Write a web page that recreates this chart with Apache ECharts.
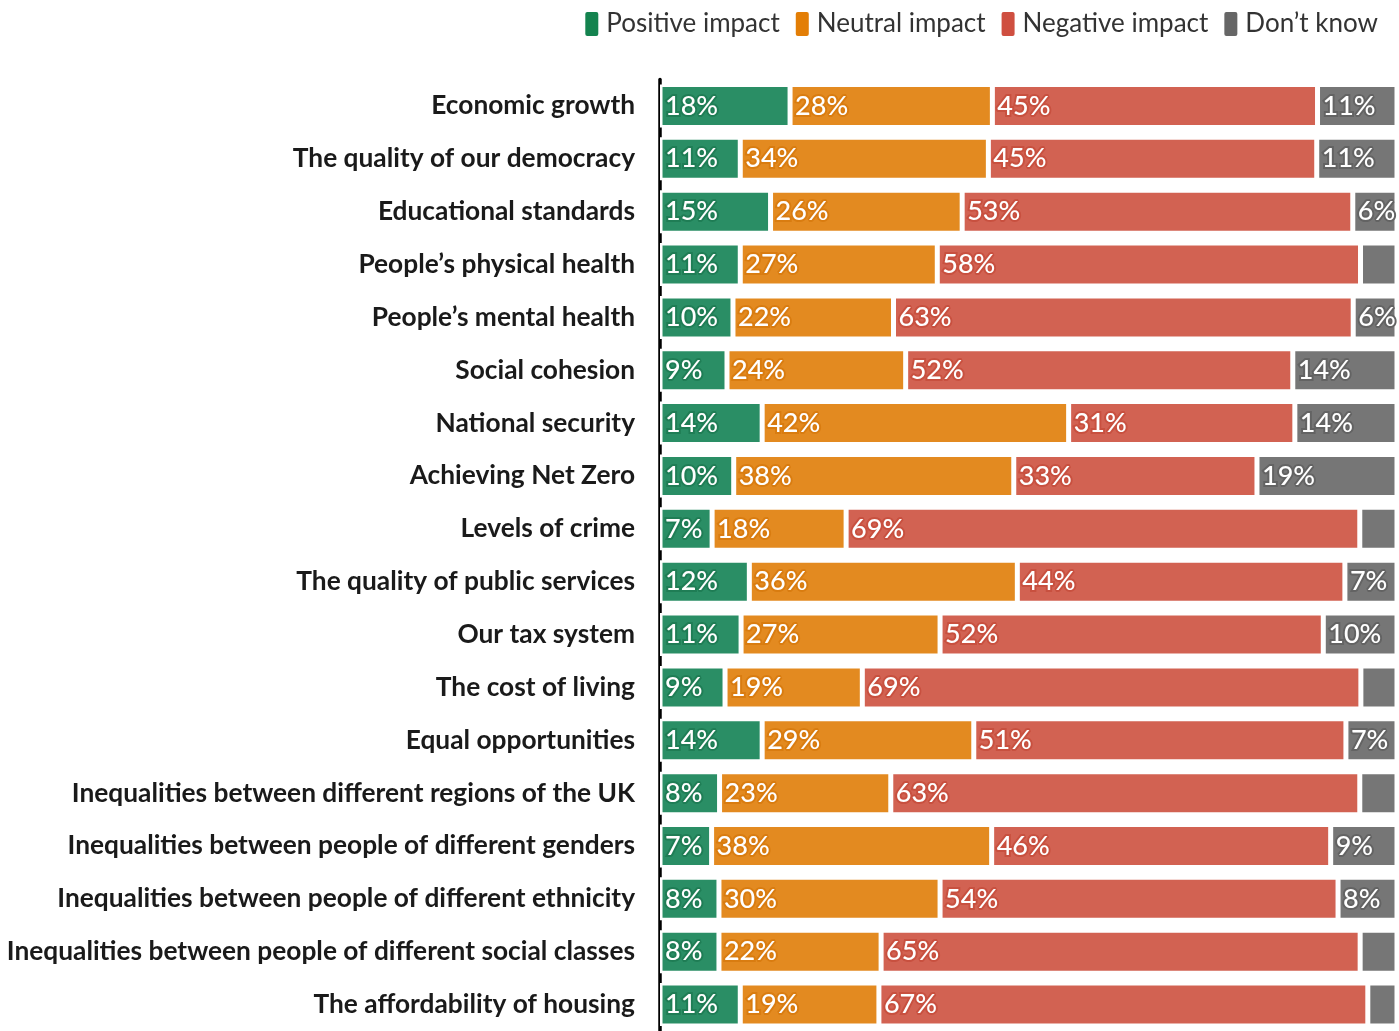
<!DOCTYPE html>
<html>
<head>
<meta charset="utf-8">
<script src="https://cdn.jsdelivr.net/npm/echarts@6/dist/echarts.min.js"></script>
<style>
  html, body { margin: 0; padding: 0; background: #ffffff; }
  #chart { width: 1399px; height: 1031px; }
</style>
</head>
<body>
<div id="chart"></div>
<script>
// Survey areas, top to bottom
const categories = [
  'Economic growth',
  'The quality of our democracy',
  'Educational standards',
  'People\u2019s physical health',
  'People\u2019s mental health',
  'Social cohesion',
  'National security',
  'Achieving Net Zero',
  'Levels of crime',
  'The quality of public services',
  'Our tax system',
  'The cost of living',
  'Equal opportunities',
  'Inequalities between different regions of the UK',
  'Inequalities between people of different genders',
  'Inequalities between people of different ethnicity',
  'Inequalities between people of different social classes',
  'The affordability of housing'
];

// Share of respondents (%) per answer
const positive = [18, 11, 15, 11, 10, 9, 14, 10, 7, 12, 11, 9, 14, 8, 7, 8, 8, 11];
const neutral  = [28, 34, 26, 27, 22, 24, 42, 38, 18, 36, 27, 19, 29, 23, 38, 30, 22, 19];
const negative = [45, 45, 53, 58, 63, 52, 31, 33, 69, 44, 52, 69, 51, 63, 46, 54, 65, 67];
const dontKnow = [11, 11, 6, 5, 6, 14, 14, 19, 5, 7, 10, 5, 7, 5, 9, 8, 5, 4];

const seriesNames = ['Positive impact', 'Neutral impact', 'Negative impact', 'Don\u2019t know'];
const seriesValues = [positive, neutral, negative, dontKnow];
const barColors   = ['#2a8e65', '#e38a20', '#d26252', '#767676'];
const haloColors  = ['#1f7d55', '#d97c10', '#c8503f', '#636363'];
const legendColors = ['#14834f', '#e37e06', '#cf4f40', '#666666'];

// Each row is drawn as a 100% stacked bar
const rowTotals = categories.map((_, i) =>
  seriesValues.reduce((s, arr) => s + arr[i], 0));

const chart = echarts.init(document.getElementById('chart'), null, { renderer: 'canvas' });

const series = seriesValues.map((vals, si) => ({
  name: seriesNames[si],
  type: 'bar',
  stack: 'total',
  barWidth: 43,
  itemStyle: {
    color: barColors[si],
    borderColor: '#ffffff',
    borderWidth: 2.5
  },
  label: {
    show: true,
    position: 'insideLeft',
    distance: 5,
    color: '#ffffff',
    fontFamily: 'Lato',
    fontWeight: 500,
    fontSize: 27,
    textBorderColor: haloColors[si],
    textBorderWidth: 4,
    formatter: p => vals[p.dataIndex] < 6 ? '' : vals[p.dataIndex] + '%'
  },
  emphasis: { disabled: true },
  data: vals.map((v, i) => v / rowTotals[i] * 100)
}));

chart.setOption({
  animation: false,
  backgroundColor: '#ffffff',
  legend: {
    top: 5,
    right: 16,
    itemWidth: 15,
    itemHeight: 26,
    itemGap: 14,
    icon: 'path://M3,0 L12,0 Q15,0 15,3 L15,23 Q15,26 12,26 L3,26 Q0,26 0,23 L0,3 Q0,0 3,0 Z',
    textStyle: { fontFamily: 'Lato', fontSize: 26, color: '#333333', padding: [0, 0, 0, 2] },
    data: seriesNames.map((n, i) => ({ name: n, itemStyle: { color: legendColors[i] } }))
  },
  grid: {
    left: 660,
    top: 79.5,
    width: 737,
    height: 955,
    containLabel: false
  },
  xAxis: {
    type: 'value',
    min: 0,
    max: 100,
    show: false
  },
  yAxis: {
    type: 'category',
    inverse: true,
    data: categories,
    offset: 2,
    axisLine: { show: true, lineStyle: { color: '#000000', width: 3.5 } },
    axisTick: { show: false },
    axisLabel: {
      margin: 23,
      fontFamily: 'Lato',
      fontWeight: 'bold',
      fontSize: 26.3,
      color: '#1a1a1a',
      padding: [4, 0, 0, 0]
    }
  },
  series: series
});
</script>
</body>
</html>
